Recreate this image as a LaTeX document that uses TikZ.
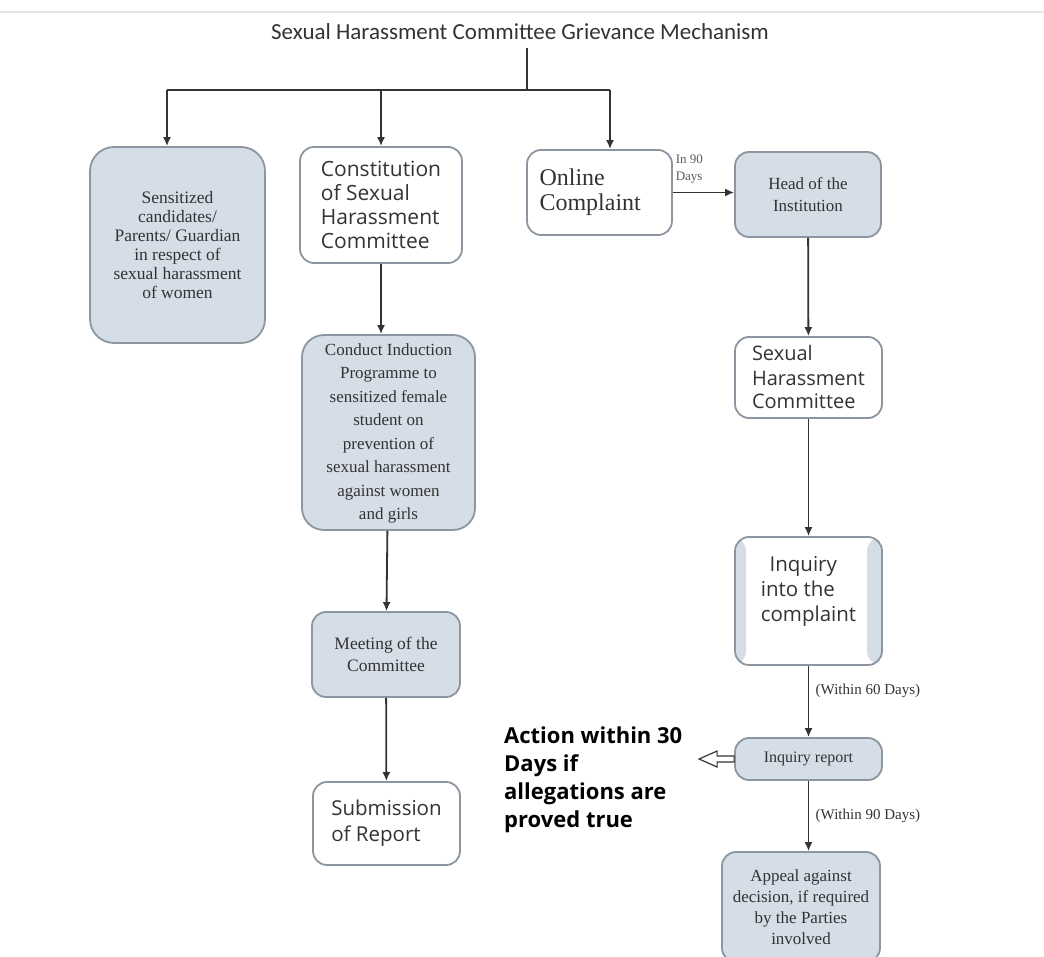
\documentclass[tikz,border=0pt]{standalone}
\usepackage{fontspec}
\setmainfont{Liberation Serif}
\setsansfont{Open Sans}
\newfontfamily\calfont{Carlito}
\usetikzlibrary{arrows.meta,positioning}
\definecolor{boxgray}{HTML}{D5DDE7}
\definecolor{edgegray}{HTML}{8C96A0}
\definecolor{inkgray}{HTML}{333333}

\begin{document}
\begin{tikzpicture}[x=1pt,y=-1pt,
  base/.style={rounded corners=14pt, draw=edgegray, line width=1.8pt, inner sep=0pt},
  graybox/.style={base, fill=boxgray, font=\fontsize{17.5}{19}\selectfont, text=inkgray, align=center},
  whitebox/.style={base, fill=white, font=\sffamily\fontsize{20}{24}\selectfont, text=inkgray, align=left},
  arr/.style={draw=inkgray, line width=1.8pt, -{Latex[length=9pt,width=8pt]}},
  wire/.style={draw=inkgray, line width=1.8pt},
  note/.style={font=\fontsize{15}{17}\selectfont, text=inkgray}]

\useasboundingbox (0,0) rectangle (1044,957);
\draw[black!10, line width=2pt] (0,12) -- (1044,12);

\node[font=\calfont\fontsize{23}{26}\selectfont, text=inkgray] (title) at (520,32) {Sexual Harassment Committee Grievance Mechanism};
\coordinate (trunk) at (527,48);
\coordinate (split) at (527,90);
\coordinate (b1) at (167,90);
\coordinate (b3) at (610,90);

% first row
\node[graybox, minimum width=175pt, minimum height=196pt, rounded corners=24pt] (sens) at (177.5,245)
  {Sensitized\\candidates/\\Parents/ Guardian\\in respect of\\sexual harassment\\of women};
\node[whitebox, font=\sffamily\fontsize{21}{24}\selectfont, minimum width=162pt, minimum height=116pt] (const) at (381,205)
  {Constitution\\of Sexual\\Harassment\\Committee};
\node[whitebox, font=\fontsize{24}{25}\selectfont, text width=120pt, minimum width=145pt, minimum height=85pt] (onl) at (599.5,192.5)
  {Online\\Complaint};
\node[graybox, minimum width=146pt, minimum height=85pt, font=\fontsize{17}{22}\selectfont] (head) at (808,194.5)
  {Head of the\\Institution};

% left column
\node[graybox, minimum width=173pt, minimum height=195pt, rounded corners=22pt, font=\fontsize{17}{23.5}\selectfont] (cond) at (388.5,432.5)
  {\rule{0pt}{14pt}Conduct Induction\\Programme to\\sensitized female\\student on\\prevention of\\sexual harassment\\against women\\and girls};
\node[graybox, minimum width=148pt, minimum height=85pt, font=\fontsize{17.5}{22}\selectfont] (meet) at (386,654.5)
  {Meeting of the\\Committee};
\node[whitebox, minimum width=147pt, minimum height=83pt, font=\sffamily\fontsize{20.5}{26}\selectfont] (subm) at (386.5,823.5)
  {Submission\\of Report};

% right column
\node[whitebox, minimum width=147pt, minimum height=81pt] (shc) at (808.5,377.5)
  {Sexual\\Harassment\\Committee};
\node[whitebox, font=\sffamily\fontsize{20.5}{25}\selectfont, minimum width=147pt, minimum height=128pt,
  path picture={
    \fill[boxgray] (path picture bounding box.north west) rectangle ([xshift=11pt]path picture bounding box.south west);
    \fill[boxgray] (path picture bounding box.north east) rectangle ([xshift=-15pt]path picture bounding box.south east);
  }] (inq) at (808.5,601)
  {\ \,Inquiry\\into the\\complaint\\ \mbox{}};
\node[graybox, minimum width=147pt, minimum height=42pt, font=\fontsize{16}{18}\selectfont] (rep) at (808.5,759)
  {Inquiry report};
\node[graybox, minimum width=158pt, minimum height=110pt, font=\fontsize{17}{21}\selectfont] (app) at (801,907)
  {Appeal against\\decision, if required\\by the Parties\\involved};

\node[font=\sffamily\bfseries\fontsize{22}{28}\selectfont, text=black, align=left, anchor=north west, inner sep=0pt] (act) at (504,727)
  {Action within 30\\Days if\\allegations are\\proved true};

% connectors
\draw[wire] (trunk) -- (split);
\draw[wire] (b1) -- (b3);
\draw[arr] (b1) -- (b1 |- sens.north);
\draw[arr] (const.north |- split) -- (const.north);
\draw[arr] (b3) -- (b3 |- onl.north);

\draw[arr] (onl.east) -- (onl.east -| head.west)
  node[pos=0, anchor=south west, align=left, inner sep=2pt, yshift=6pt, font=\fontsize{13}{17}\selectfont, text=black!65] {In 90\\Days};
\draw[arr] (head) -- (shc);
\draw[arr] (shc) -- (inq);
\draw[arr] (inq) -- (rep) node[note, pos=0.35, right=3pt] {(Within 60 Days)};
\draw[arr] (rep) -- (app.north -| rep) node[note, midway, right=3pt] {(Within 90 Days)};

\draw[arr] (const.south) -- (const.south |- cond.north);
\draw[arr] (cond) -- (meet);
\draw[arr] (meet) -- (subm);

\draw[draw=inkgray, line width=1.2pt, fill=white] (rep.west) ++(0,-3) -- ++(-17,0) -- ++(0,-5) -- ++(-18,8) -- ++(18,8) -- ++(0,-5) -- ++(17,0) -- cycle;

\end{tikzpicture}
\end{document}
